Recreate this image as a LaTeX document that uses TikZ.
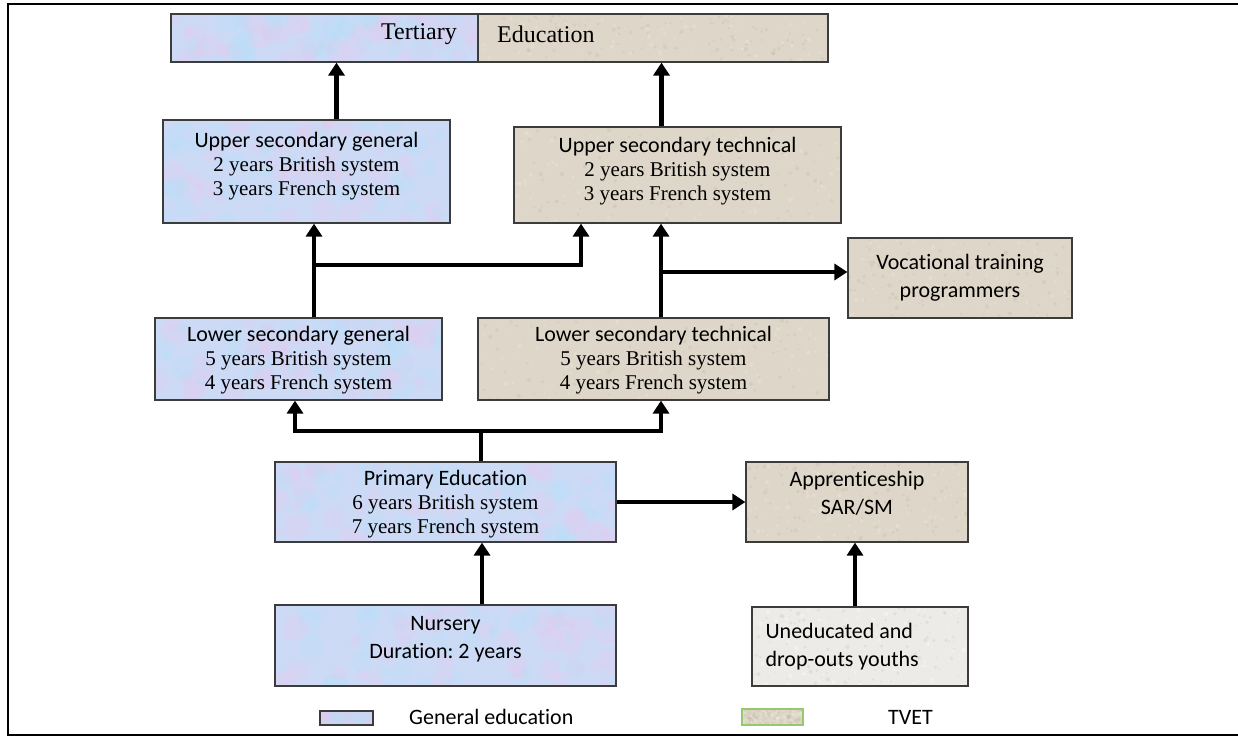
\documentclass[tikz,border=0pt]{standalone}
\usepackage{fontspec}
\setmainfont{Liberation Serif}
\newfontfamily\calfont[Ligatures={NoCommon,NoRequired,NoContextual}]{Carlito}
\usetikzlibrary{arrows.meta,calc}
\definecolor{genblue}{RGB}{204,218,246}
\definecolor{genpink}{RGB}{226,204,238}
\definecolor{gencyan}{RGB}{186,222,246}
\definecolor{tvettan}{RGB}{222,214,200}
\definecolor{tanlight}{RGB}{238,233,222}
\definecolor{tandark}{RGB}{200,190,174}
\definecolor{dropgray}{RGB}{236,235,232}
\definecolor{graydark}{RGB}{205,203,198}
\definecolor{boxedge}{RGB}{60,60,60}
\definecolor{legendgreen}{RGB}{150,200,110}
\frenchspacing
% mottled paper texture inside a node: #1,#2 spot colours, #3 count, #4 base radius, #5 radius spread
\newcommand{\mottle}[5]{%
  \foreach \k in {1,...,#3}{%
    \coordinate (mx) at ($(path picture bounding box.south west)!{rnd}!(path picture bounding box.south east)$);
    \coordinate (my) at ($(path picture bounding box.south west)!{rnd}!(path picture bounding box.north west)$);
    \pgfmathsetmacro\rr{#4+#5*rnd}
    \fill[#1,opacity=0.35] (mx |- my) circle[radius=\rr];
    \coordinate (mx) at ($(path picture bounding box.south west)!{rnd}!(path picture bounding box.south east)$);
    \coordinate (my) at ($(path picture bounding box.south west)!{rnd}!(path picture bounding box.north west)$);
    \pgfmathsetmacro\rr{#4+#5*rnd}
    \fill[#2,opacity=0.35] (mx |- my) circle[radius=\rr];
  }}
\pgfmathsetseed{4711}
\begin{document}
\begin{tikzpicture}[x=1pt,y=-1pt,
  box/.style={draw=boxedge,line width=1.2pt,inner sep=0pt,rectangle},
  gen/.style={box,fill=genblue,path picture={\mottle{genpink}{gencyan}{45}{3}{10}}},
  tvet/.style={box,fill=tvettan,path picture={\mottle{tanlight}{tandark}{110}{0.6}{1.6}}},
  drop/.style={box,fill=dropgray,path picture={\mottle{white}{graydark}{110}{0.6}{1.6}}},
  txt/.style={align=center,inner sep=0pt,font=\fontsize{21}{24}\selectfont},
  caltxt/.style={align=center,inner sep=0pt,font=\calfont\fontsize{22}{28}\selectfont},
  lnk/.style={line width=4.5pt},
  arr/.style={line width=4.5pt,-{Triangle[width=16pt,length=13pt]}},
]
\useasboundingbox (0,0) rectangle (1238,738);
% outer frame (open on the right)
\draw[line width=2.5pt] (1238,4) -- (8,4) -- (8,735) -- (1238,735);

% boxes
\node[gen, minimum width=307pt, minimum height=48pt] (tg) at (324.5,38) {};
\node[tvet,minimum width=350pt, minimum height=48pt] (tt) at (653,38) {};
\node[gen, minimum width=287pt, minimum height=103pt] (ug) at (306.5,171.5) {};
\node[tvet,minimum width=327pt, minimum height=96pt] (ut) at (677.5,175) {};
\node[tvet,minimum width=224pt, minimum height=80pt] (voc) at (960,278) {};
\node[gen, minimum width=287pt, minimum height=82pt] (lg) at (298.5,359) {};
\node[tvet,minimum width=351pt, minimum height=82pt] (lt) at (653.5,359) {};
\node[gen, minimum width=341pt, minimum height=80pt] (pr) at (445.5,502) {};
\node[tvet,minimum width=222pt, minimum height=80pt] (ap) at (857,502) {};
\node[gen, minimum width=341pt, minimum height=81pt] (nu) at (445.5,645.5) {};
\node[drop,minimum width=216pt, minimum height=79pt] (un) at (860,646.5) {};

% texts
\node[txt,anchor=east,font=\fontsize{24}{26}\selectfont] (tgT) at (457,34) {Tertiary};
\node[txt,anchor=west,font=\fontsize{24}{26}\selectfont] (ttT) at (497,34) {Education};
\node[txt,anchor=north] (ugT) at ($(ug.north)+(0,13)$)
  {{\calfont\fontsize{22}{24}\selectfont Upper secondary general}\\2 years British system\\3 years French system};
\node[txt,anchor=north] (utT) at ($(ut.north)+(0,11)$)
  {{\calfont\fontsize{22}{24}\selectfont Upper secondary technical}\\2 years British system\\3 years French system};
\node[caltxt] (vocT) at (voc) {Vocational training\\programmers};
\node[txt,anchor=north] (lgT) at ($(lg.north)+(0,9)$)
  {{\calfont\fontsize{22}{24}\selectfont Lower secondary general}\\5 years British system\\4 years French system};
\node[txt,anchor=north] (ltT) at ($(lt.north)+(0,9)$)
  {{\calfont\fontsize{22}{24}\selectfont Lower secondary technical}\\5 years British system\\4 years French system};
\node[txt,anchor=north] (prT) at ($(pr.north)+(0,9)$)
  {{\calfont\fontsize{22}{24}\selectfont Primary Education}\\6 years British system\\7 years French system};
\node[caltxt,anchor=north] (apT) at ($(ap.north)+(0,10)$) {Apprenticeship\\SAR/SM};
\node[caltxt,anchor=north] (nuT) at ($(nu.north)+(0,12)$) {Nursery\\Duration: 2 years};
\node[caltxt,align=left,anchor=west] (unT) at ($(un.west)+(14,0)$) {Uneducated and\\drop-outs youths};

% legend
\node[gen, minimum width=53pt, minimum height=14pt] (lgen) at (346.5,718) {};
\node[caltxt,anchor=west] (lgenT) at (409,717) {General education};
\node[tvet,draw=legendgreen,line width=1.5pt, minimum width=61pt, minimum height=16pt] (ltvet) at (772.5,717) {};
\node[caltxt,anchor=west] (ltvetT) at (888,717) {TVET};

% connectors
\draw[arr] ([xshift=30pt]ug.north) -- ([xshift=30pt]ug.north |- tg.south);
\draw[arr] ([xshift=-16pt]ut.north) -- ([xshift=-16pt]ut.north |- tt.south);

\draw[arr] ([xshift=15.5pt]lg.north) -- ([xshift=15.5pt]lg.north |- ug.south);
\coordinate (jg) at ([xshift=15.5pt]lg.north |- 0,265);
\draw[arr] (jg) -| ([xshift=-96.5pt]ut.south);

\draw[arr] ([xshift=7.5pt]lt.north) -- ([xshift=7.5pt]lt.north |- ut.south);
\coordinate (jt) at ([xshift=7.5pt]lt.north |- 0,272);
\draw[arr] (jt) -- (jt -| voc.west);

\coordinate (jp) at ([xshift=35.5pt]pr.north |- 0,431);
\draw[lnk] ([xshift=35.5pt]pr.north) -- (jp);
\draw[arr] (jp) -| ([xshift=-3.5pt]lg.south);
\draw[arr] (jp) -| ([xshift=7.5pt]lt.south);

\draw[arr] (pr.east) -- (ap.west);
\draw[arr] ([xshift=36.5pt]nu.north) -- ([xshift=36.5pt]nu.north |- pr.south);
\draw[arr] ([xshift=-5pt]un.north) -- ([xshift=-5pt]un.north |- ap.south);
\end{tikzpicture}
\end{document}
